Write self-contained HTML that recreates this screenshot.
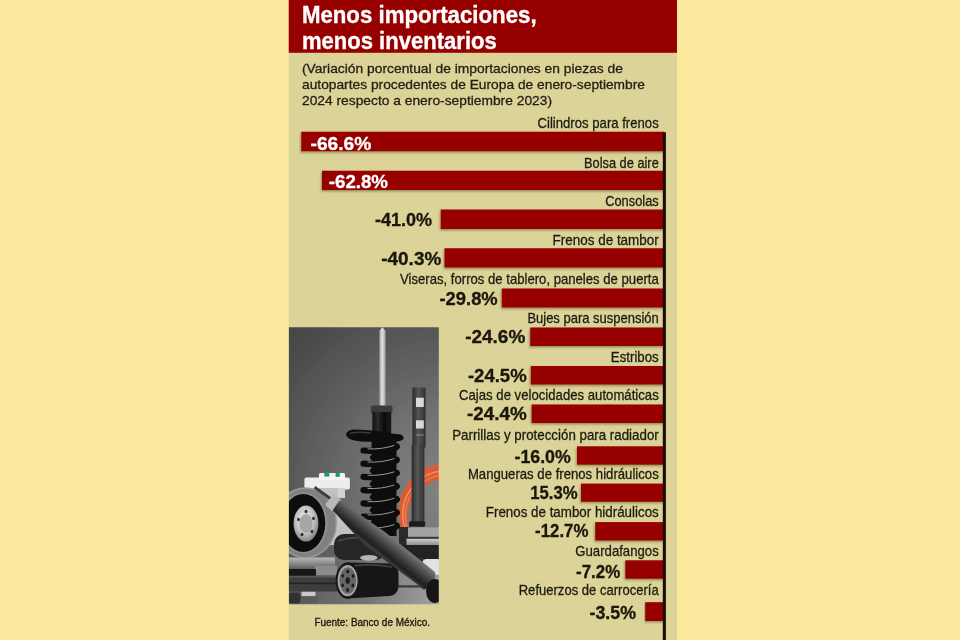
<!DOCTYPE html>
<html lang="es">
<head>
<meta charset="utf-8">
<title>Menos importaciones, menos inventarios</title>
<style>
html,body{margin:0;padding:0;background:#FBE99E;}
body{width:960px;height:640px;overflow:hidden;}
svg{display:block;}
text{font-family:"Liberation Sans",sans-serif;fill:#1d1a10;}
.title{font-weight:bold;font-size:23.8px;fill:#fff;stroke:#fff;stroke-width:0.35;}
.sub{font-size:13.6px;fill:#221e14;stroke:#221e14;stroke-width:0.3;}
.lab{font-size:14.2px;fill:#1d1a10;stroke:#1d1a10;stroke-width:0.28;}
.val{font-weight:bold;font-size:17.6px;fill:#1c170c;stroke:#1c170c;stroke-width:0.3;}
.val.w{fill:#fff;stroke:#fff;}
.src{font-size:11.4px;fill:#1e190c;stroke:#1e190c;stroke-width:0.35;}
</style>
</head>
<body>
<svg width="960" height="640" viewBox="0 0 960 640">
<defs>
<filter id="sh" x="-5%" y="-30%" width="110%" height="170%">
<feDropShadow dx="-0.8" dy="1.4" stdDeviation="1.2" flood-color="#3a3000" flood-opacity="0.45"/>
</filter>
</defs>
<rect x="0" y="0" width="960" height="640" fill="#FBE99E"/>
<rect x="288.75" y="0" width="388.25" height="640" fill="#DBD398"/>
<rect x="288.75" y="0" width="388.25" height="52.8" fill="#960000"/>
<text class="title" x="301.9" y="22.5" textLength="234.7" lengthAdjust="spacingAndGlyphs">Menos importaciones,</text>
<text class="title" x="301.9" y="48.5" textLength="194.9" lengthAdjust="spacingAndGlyphs">menos inventarios</text>
<text class="sub" x="302" y="72.5" textLength="321" lengthAdjust="spacingAndGlyphs">(Variación porcentual de importaciones en piezas de</text>
<text class="sub" x="302" y="88.6" textLength="343" lengthAdjust="spacingAndGlyphs">autopartes procedentes de Europa de enero-septiembre</text>
<text class="sub" x="302" y="104.6" textLength="250" lengthAdjust="spacingAndGlyphs">2024 respecto a enero-septiembre 2023)</text>
<defs>
<clipPath id="pc"><rect x="288.9" y="327.2" width="149.9" height="277"/></clipPath>
<radialGradient id="bgp" gradientUnits="userSpaceOnUse" cx="446" cy="490" r="232">
<stop offset="0" stop-color="#828282"/><stop offset="0.3" stop-color="#747474"/><stop offset="0.62" stop-color="#5c5c5c"/><stop offset="0.92" stop-color="#484848"/><stop offset="1" stop-color="#444"/>
</radialGradient>
<linearGradient id="rod" x1="0" x2="1" y1="0" y2="0">
<stop offset="0" stop-color="#8d8d8d"/><stop offset="0.45" stop-color="#e6e6e6"/><stop offset="1" stop-color="#9a9a9a"/>
</linearGradient>
<linearGradient id="cyl" x1="0" x2="1" y1="0" y2="0">
<stop offset="0" stop-color="#111"/><stop offset="0.3" stop-color="#2c2c2c"/><stop offset="0.6" stop-color="#0c0c0c"/><stop offset="1" stop-color="#1a1a1a"/>
</linearGradient>
<linearGradient id="sh2" x1="0" x2="1" y1="0" y2="0">
<stop offset="0" stop-color="#2b2b2b"/><stop offset="0.45" stop-color="#555"/><stop offset="1" stop-color="#303030"/>
</linearGradient>
<linearGradient id="diag" x1="0" x2="0" y1="0" y2="1">
<stop offset="0" stop-color="#6a6a6a"/><stop offset="0.35" stop-color="#454545"/><stop offset="1" stop-color="#1c1c1c"/>
</linearGradient>
<linearGradient id="diag2" gradientUnits="userSpaceOnUse" x1="400" y1="543.6" x2="387.2" y2="559.6">
<stop offset="0" stop-color="#7a7a7a"/><stop offset="0.3" stop-color="#575757"/><stop offset="0.62" stop-color="#333"/><stop offset="0.88" stop-color="#1f1f1f"/><stop offset="1" stop-color="#383838"/>
</linearGradient>
<linearGradient id="metal2" x1="0" x2="0" y1="0" y2="1">
<stop offset="0" stop-color="#cdcdcd"/><stop offset="1" stop-color="#8e8e8e"/>
</linearGradient>
<linearGradient id="floor" gradientUnits="userSpaceOnUse" x1="295" y1="575" x2="430" y2="604">
<stop offset="0" stop-color="#5c5c5c"/><stop offset="0.55" stop-color="#747474"/><stop offset="1" stop-color="#9e9e9e"/>
</linearGradient>
<radialGradient id="hub" cx="0.45" cy="0.4" r="0.6">
<stop offset="0" stop-color="#f0f0f0"/><stop offset="0.6" stop-color="#c4c4c4"/><stop offset="1" stop-color="#858585"/>
</radialGradient>
<linearGradient id="metal" x1="0" x2="0" y1="0" y2="1">
<stop offset="0" stop-color="#b8b8b8"/><stop offset="0.5" stop-color="#8a8a8a"/><stop offset="1" stop-color="#5a5a5a"/>
</linearGradient>
<filter id="pb" x="0" y="0" width="100%" height="100%"><feGaussianBlur stdDeviation="0.45"/></filter>
</defs>
<g clip-path="url(#pc)">
<g filter="url(#pb)">
<rect x="285" y="324" width="158" height="284" fill="url(#bgp)"/>
<!-- floor -->
<rect x="285" y="556" width="158" height="52" fill="url(#floor)"/>
<!-- orange hose loop -->
<path fill-rule="evenodd" fill="#dc5c32" d="M398.5 512 A48.5 48.5 0 1 0 495.5 512 A48.5 48.5 0 1 0 398.5 512 Z M407.5 517 A38 38 0 1 0 483.5 517 A38 38 0 1 0 407.5 517 Z"/>
<circle cx="446.3" cy="514.3" r="43.6" fill="none" stroke="#ee916c" stroke-width="1.5"/>
<circle cx="445.9" cy="515.6" r="40.6" fill="none" stroke="#ea845c" stroke-width="1.2"/>
<!-- right shock -->
<rect x="412.4" y="387.5" width="13.2" height="60" fill="url(#sh2)"/>
<rect x="411.6" y="445" width="12.8" height="78" fill="url(#sh2)"/>
<rect x="416" y="397.7" width="7.8" height="9.3" fill="#d9d9d9"/>
<rect x="416" y="420.3" width="7.8" height="8.2" fill="#d9d9d9"/>
<rect x="416" y="434.5" width="7.8" height="1" fill="#8a8a8a"/>
<rect x="409" y="521.2" width="16.2" height="5.6" rx="1.5" fill="#1e1e1e"/>
<!-- hub right -->
<rect x="399" y="527" width="12" height="20" fill="#2b2b2b"/>
<rect x="408" y="527.4" width="36" height="9.6" fill="#a3a3a3"/>
<rect x="408" y="536.8" width="36" height="2.2" fill="#353535"/>
<rect x="406.5" y="538.8" width="38" height="6.4" fill="url(#metal2)"/>
<rect x="399" y="545" width="45" height="14.5" fill="#242424"/>
<rect x="401" y="558" width="22" height="8" fill="#2f2f2f"/>
<rect x="422" y="559" width="20" height="16" rx="5" fill="#e2e2e2"/>
<!-- strut rod -->
<path d="M379.2 331 L382.4 327 L385.6 331 L385.6 406 L379.2 406 Z" fill="url(#rod)"/>
<!-- strut cap/cylinder -->
<rect x="370.8" y="405.5" width="21.6" height="7.5" rx="1.5" fill="#3b3b3b"/>
<rect x="372.4" y="412" width="18.8" height="24" fill="url(#cyl)"/>
<!-- spring seat -->
<path d="M346 434.8 Q346.5 429.4 356 429.4 L372 430.6 Q385 432 392 433.6 L400.5 434.4 Q404 436 403.6 438.6 Q402 442 391 442.2 L361 441.4 Q347 440.4 346 434.8 Z" fill="#0b0b0b"/>
<path d="M350 433.2 Q360 431.2 371 433.2" stroke="#3a3a3a" stroke-width="1.6" fill="none"/>
<!-- coils -->
<rect x="371.5" y="438" width="25" height="98" fill="#0c0c0c"/>
<g fill="none" stroke="#0b0b0b" stroke-width="6.2" stroke-linecap="round">
<path d="M363.5 450.5 Q380 452.0 396.8 446.5"/>
<path d="M363.5 463.7 Q380 465.2 396.8 459.7"/>
<path d="M363.5 476.9 Q380 478.4 396.8 472.9"/>
<path d="M363.5 490.1 Q380 491.6 396.8 486.1"/>
<path d="M363.5 503.3 Q380 504.8 396.8 499.3"/>
<path d="M363.5 516.5 Q380 518.0 396.8 512.5"/>
<path d="M363.5 529.7 Q380 531.2 396.8 525.7"/>
</g>
<g fill="none" stroke="#0b0b0b" stroke-width="4.5" stroke-linecap="round">
<path d="M397 447.5 Q388 455.5 372 457.5"/>
<path d="M397 460.7 Q388 468.7 372 470.7"/>
<path d="M397 473.9 Q388 481.9 372 483.9"/>
<path d="M397 487.1 Q388 495.1 372 497.1"/>
<path d="M397 500.3 Q388 508.3 372 510.3"/>
<path d="M397 513.5 Q388 521.5 372 523.5"/>
<path d="M397 526.7 Q388 534.7 372 536.7"/>
</g>
<g fill="none" stroke="#9a9a9a" stroke-width="1" stroke-linecap="round">
<path d="M368 448.9 Q382 449.5 394 445.5"/>
<path d="M368 462.1 Q382 462.7 394 458.7"/>
<path d="M368 475.3 Q382 475.9 394 471.9"/>
<path d="M368 488.5 Q382 489.1 394 485.1"/>
<path d="M368 501.7 Q382 502.3 394 498.3"/>
<path d="M368 514.9 Q382 515.5 394 511.5"/>
<path d="M368 528.1 Q382 528.7 394 524.7"/>
</g>
<!-- reservoir -->
<rect x="304.4" y="477.5" width="45.5" height="12" rx="2" fill="#ededed"/>
<rect x="319" y="473" width="26" height="7" rx="1.5" fill="#f4f4f4"/>
<rect x="309" y="488" width="36" height="10" fill="#d2d2d2"/>
<rect x="324.3" y="472" width="5" height="4.5" fill="#1f9a68"/>
<rect x="335.6" y="472.6" width="4.2" height="4.2" fill="#1f9a68"/>
<!-- left lower metallic stack -->
<rect x="285" y="557.5" width="50" height="12" fill="url(#metal)"/>
<rect x="315" y="566" width="22" height="10" fill="#8c8c8c"/>
<rect x="285" y="569" width="31" height="8" fill="#161616"/>
<rect x="285" y="575.5" width="54" height="16" fill="#3c3c3c"/>
<rect x="285" y="582.5" width="54" height="1.6" fill="#242424"/>
<rect x="285" y="576" width="54" height="1.6" fill="#5a5a5a"/>
<rect x="289" y="592.5" width="11.5" height="11" rx="3" fill="#303030"/>
<rect x="301.5" y="591.8" width="14" height="4.4" rx="1" fill="#c9c9c9"/>
<rect x="301.5" y="596.2" width="16" height="6" rx="1" fill="#5a5a5a"/>
<rect x="397" y="585.3" width="26" height="2.2" fill="#3a3a3a"/>
<!-- caliper lighter block behind -->
<path d="M320 488 L338 488 L338 500 L366 545 L320 545 Z" fill="#c2c2c2"/>
<!-- brake disc -->
<ellipse cx="305.5" cy="522.8" rx="30.8" ry="34.8" fill="#808080"/>
<ellipse cx="305.5" cy="522.8" rx="30.8" ry="34.8" fill="none" stroke="#9c9c9c" stroke-width="1.4"/>
<ellipse cx="303.5" cy="523" rx="24" ry="30.5" fill="#8e8e8e"/>
<ellipse cx="303.3" cy="523" rx="22" ry="29" fill="#0f0f0f"/>
<ellipse cx="306" cy="523.5" rx="12.4" ry="18" fill="url(#hub)"/>
<ellipse cx="306" cy="523.5" rx="6.5" ry="9.5" fill="#a6a6a6"/>
<g fill="#2e2e2e"><ellipse cx="306" cy="511.5" rx="1.5" ry="1.8"/><ellipse cx="313.5" cy="518.5" rx="1.4" ry="1.8"/><ellipse cx="312" cy="531.5" rx="1.4" ry="1.8"/><ellipse cx="302" cy="534.5" rx="1.5" ry="1.8"/><ellipse cx="298.5" cy="519.5" rx="1.4" ry="1.8"/></g>
<!-- dark rounded object behind filter -->
<rect x="334" y="534" width="52" height="26" rx="10" fill="#262626"/>
<path d="M338 541 Q358 534 380 541" stroke="#4a4a4a" stroke-width="1.5" fill="none"/>
<!-- oil filter -->
<path d="M347 562.6 L390 563.6 Q398.5 565 398.5 574 L398.5 586 Q398 595.5 389 596 L347 598.6 Z" fill="#131313"/>
<path d="M352 566 Q372 563.5 392 567" stroke="#3a3a3a" stroke-width="2.2" fill="none"/>
<ellipse cx="368.8" cy="557.8" rx="8.8" ry="2.9" fill="#b4b4b4"/>
<ellipse cx="347.6" cy="580.6" rx="12" ry="18.2" fill="#171717"/>
<ellipse cx="347.6" cy="580.6" rx="10" ry="15.7" fill="#a6a6a6"/>
<ellipse cx="347.8" cy="580.6" rx="8.3" ry="13.3" fill="#666"/>
<g fill="#1b1b1b"><ellipse cx="347.8" cy="571.5" rx="1.5" ry="1.9"/><ellipse cx="353" cy="576" rx="1.4" ry="1.9"/><ellipse cx="352.8" cy="585.5" rx="1.4" ry="1.9"/><ellipse cx="347.5" cy="590" rx="1.5" ry="1.9"/><ellipse cx="342.6" cy="585.3" rx="1.3" ry="1.9"/><ellipse cx="342.8" cy="575.8" rx="1.3" ry="1.9"/><ellipse cx="347.8" cy="580.6" rx="2.2" ry="3.3"/></g>
<!-- diagonal shock -->
<path d="M314.5 487.2 L331 499" stroke="#3c3c3c" stroke-width="3" fill="none"/>
<g transform="translate(336.65 505.4) rotate(38.45)">
<rect x="-9.5" y="-7.2" width="10.5" height="14.4" rx="2" fill="#b9b9b9"/>
</g>
<path d="M339.5 500.3 L385 531.9 L433.5 570.8 Q438 575 433 581 L426 589 Q423 591 419.5 586 L364.4 545 L332.8 510.3 Z" fill="url(#diag2)"/>
<!-- black ball bottom-right -->
<ellipse cx="435" cy="591" rx="9" ry="12" fill="#151515"/>
</g>
</g>

<rect x="301.25" y="131.75" width="362.55" height="19.50" fill="#960000" filter="url(#sh)"/>
<rect x="322" y="170.75" width="341.80" height="19.25" fill="#960000" filter="url(#sh)"/>
<rect x="440.75" y="209.5" width="223.05" height="19.50" fill="#960000" filter="url(#sh)"/>
<rect x="444.5" y="248.25" width="219.30" height="19.25" fill="#960000" filter="url(#sh)"/>
<rect x="501.8" y="288.5" width="162.00" height="19.00" fill="#960000" filter="url(#sh)"/>
<rect x="530.2" y="327.5" width="133.60" height="18.50" fill="#960000" filter="url(#sh)"/>
<rect x="530.8" y="366" width="133.00" height="18.50" fill="#960000" filter="url(#sh)"/>
<rect x="531.6" y="404.5" width="132.20" height="18.50" fill="#960000" filter="url(#sh)"/>
<rect x="577" y="446.3" width="86.80" height="18.40" fill="#960000" filter="url(#sh)"/>
<rect x="581" y="483.6" width="82.80" height="18.20" fill="#960000" filter="url(#sh)"/>
<rect x="595.2" y="522.1" width="68.60" height="18.40" fill="#960000" filter="url(#sh)"/>
<rect x="625.3" y="560.3" width="38.50" height="18.45" fill="#960000" filter="url(#sh)"/>
<rect x="645.2" y="602.2" width="18.60" height="18.80" fill="#960000" filter="url(#sh)"/>
<text class="lab" x="537.5" y="128" textLength="121.25" lengthAdjust="spacingAndGlyphs">Cilindros para frenos</text>
<text class="val w" x="310.5" y="149.5" textLength="60.75" lengthAdjust="spacingAndGlyphs">-66.6%</text>
<text class="lab" x="584" y="167.8" textLength="74.75" lengthAdjust="spacingAndGlyphs">Bolsa de aire</text>
<text class="val w" x="328.75" y="188" textLength="59.25" lengthAdjust="spacingAndGlyphs">-62.8%</text>
<text class="lab" x="605.2" y="206.2" textLength="53.55" lengthAdjust="spacingAndGlyphs">Consolas</text>
<text class="val" x="375" y="226.25" textLength="57.00" lengthAdjust="spacingAndGlyphs">-41.0%</text>
<text class="lab" x="552.6" y="245.0" textLength="106.15" lengthAdjust="spacingAndGlyphs">Frenos de tambor</text>
<text class="val" x="381.25" y="265" textLength="60.00" lengthAdjust="spacingAndGlyphs">-40.3%</text>
<text class="lab" x="400" y="283.6" textLength="258.75" lengthAdjust="spacingAndGlyphs">Viseras, forros de tablero, paneles de puerta</text>
<text class="val" x="439.5" y="304.7" textLength="58.20" lengthAdjust="spacingAndGlyphs">-29.8%</text>
<text class="lab" x="527.4" y="322.8" textLength="131.35" lengthAdjust="spacingAndGlyphs">Bujes para suspensión</text>
<text class="val" x="465.2" y="343.1" textLength="60.10" lengthAdjust="spacingAndGlyphs">-24.6%</text>
<text class="lab" x="610.8" y="362.4" textLength="47.95" lengthAdjust="spacingAndGlyphs">Estribos</text>
<text class="val" x="467.9" y="381.9" textLength="58.80" lengthAdjust="spacingAndGlyphs">-24.5%</text>
<text class="lab" x="459" y="400.4" textLength="199.75" lengthAdjust="spacingAndGlyphs">Cajas de velocidades automáticas</text>
<text class="val" x="467.1" y="420.3" textLength="59.60" lengthAdjust="spacingAndGlyphs">-24.4%</text>
<text class="lab" x="452.2" y="439.8" textLength="206.55" lengthAdjust="spacingAndGlyphs">Parrillas y protección para radiador</text>
<text class="val" x="514.5" y="463.3" textLength="56.30" lengthAdjust="spacingAndGlyphs">-16.0%</text>
<text class="lab" x="467.9" y="478.5" textLength="190.85" lengthAdjust="spacingAndGlyphs">Mangueras de frenos hidráulicos</text>
<text class="val" x="530.2" y="498.5" textLength="47.40" lengthAdjust="spacingAndGlyphs">15.3%</text>
<text class="lab" x="485.8" y="517.4" textLength="172.95" lengthAdjust="spacingAndGlyphs">Frenos de tambor hidráulicos</text>
<text class="val" x="535.1" y="536.5" textLength="53.30" lengthAdjust="spacingAndGlyphs">-12.7%</text>
<text class="lab" x="575.3" y="555.7" textLength="83.45" lengthAdjust="spacingAndGlyphs">Guardafangos</text>
<text class="val" x="576.1" y="577.5" textLength="44.10" lengthAdjust="spacingAndGlyphs">-7.2%</text>
<text class="lab" x="518.7" y="595.4" textLength="140.05" lengthAdjust="spacingAndGlyphs">Refuerzos de carrocería</text>
<text class="val" x="589.5" y="619.1" textLength="46.50" lengthAdjust="spacingAndGlyphs">-3.5%</text>
<rect x="662.8" y="132.2" width="3.1" height="508" fill="#1a0d08"/>
<text class="src" x="314.4" y="625.8" textLength="115.6" lengthAdjust="spacingAndGlyphs">Fuente: Banco de México.</text>
</svg>
</body>
</html>
